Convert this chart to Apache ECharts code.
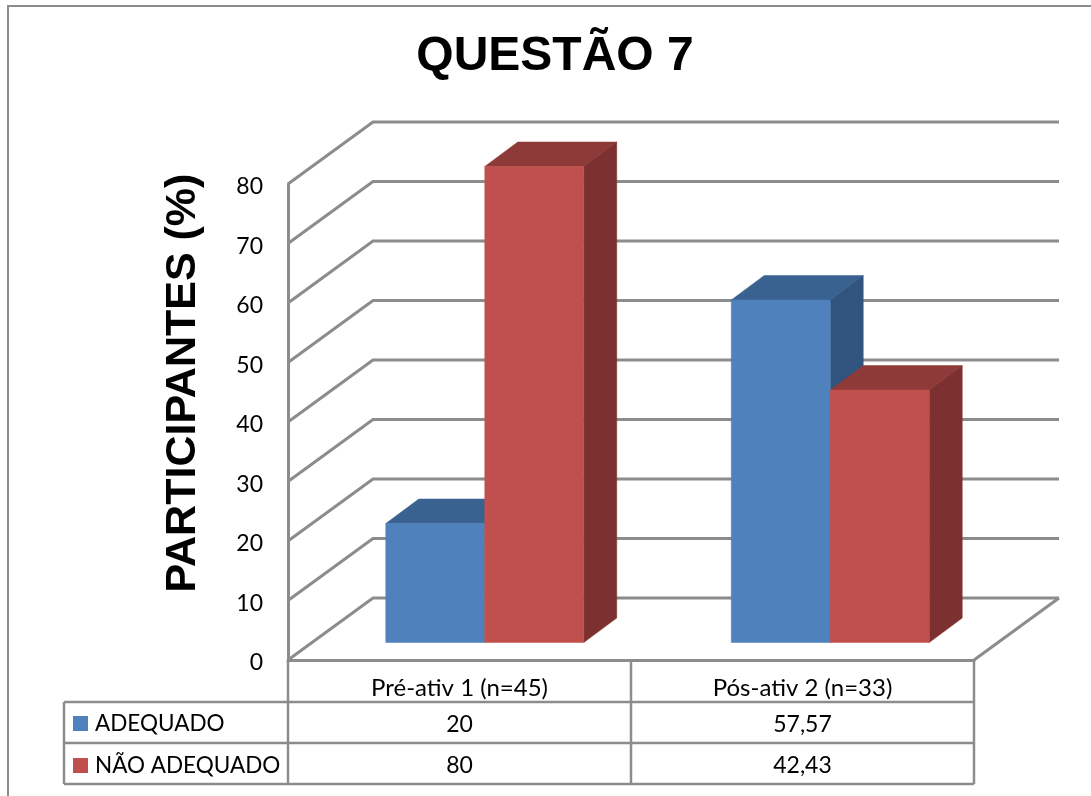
<!DOCTYPE html>
<html>
<head>
<meta charset="utf-8">
<title>QUESTÃO 7</title>
<script src="https://cdn.jsdelivr.net/npm/echarts@6/dist/echarts.min.js"></script>
<style>
  html, body { margin: 0; padding: 0; background: #fff; }
  #chart { width: 1091px; height: 796px; }
</style>
</head>
<body>
<div id="chart"></div>
<script>
const categories = ['Pré-ativ 1 (n=45)', 'Pós-ativ 2 (n=33)']
const adequado = [20, 57.57]
const naoAdequado = [80, 42.43]
const yTicks = [0, 10, 20, 30, 40, 50, 60, 70, 80]

const lineColor = '#8c8c8c'
const font = 'Lato'
// 3d look: how far the back wall sits from the front plane
const wallDx = 85
const wallDy = -62
// front face of the bars against the front plane, and how deep they are
const barDx = 25
const barDy = -17.5
const depthDx = 33
const depthDy = -24.5
const barShare = 0.2865

const myChart = echarts.init(document.getElementById('chart'))

function poly(points, fill) {
  return { type: 'polygon', shape: { points }, style: { fill, stroke: fill, lineWidth: 0.5 } }
}

function wallItem(params, api) {
  const grid = params.coordSys
  const y = api.coord([0, api.value(1)])[1]
  const left = grid.x
  const right = grid.x + grid.width
  const style = { stroke: lineColor, lineWidth: 3, fill: null }
  const children = [{
    type: 'polyline',
    shape: { points: [[left, y], [left + wallDx, y + wallDy], [right + wallDx, y + wallDy]] },
    style
  }]
  if (api.value(1) === 0) {
    children.push({
      type: 'line',
      shape: { x1: right, y1: y, x2: right + wallDx, y2: y + wallDy },
      style
    })
  }
  return { type: 'group', children }
}

function barRender(index, front, top, side) {
  return function (params, api) {
    const w = api.size([1, 0])[0] * barShare
    const center = api.coord([api.value(0), 0])[0] + barDx
    const x = index === 0 ? center - w : center
    const base = api.coord([api.value(0), 0])[1] + barDy
    const yTop = api.coord([api.value(0), api.value(1)])[1] + barDy
    return {
      type: 'group',
      children: [
        poly([[x, yTop], [x + w, yTop], [x + w + depthDx, yTop + depthDy], [x + depthDx, yTop + depthDy]], top),
        poly([[x + w, yTop], [x + w + depthDx, yTop + depthDy], [x + w + depthDx, base + depthDy], [x + w, base]], side),
        poly([[x, yTop], [x + w, yTop], [x + w, base], [x, base]], front)
      ]
    }
  }
}

function fmt(v) {
  return String(v).replace('.', ',')
}

// data table under the chart
const colX = [288, 631, 974]
const rowY = [702, 743, 784]
const tableLines = []
colX.forEach(x => tableLines.push([x, 660, x, rowY[2]]))
rowY.forEach(y => tableLines.push([64, y, colX[2], y]))
tableLines.push([64, rowY[0], 64, rowY[2]])

const graphics = tableLines.map(l => ({
  type: 'line',
  shape: { x1: l[0], y1: l[1], x2: l[2], y2: l[3] },
  style: { stroke: lineColor, lineWidth: 2.5 }
}))
// outer frame
graphics.push({
  type: 'polyline',
  shape: { points: [[8, 796], [8, 6], [1091, 6]] },
  style: { stroke: lineColor, lineWidth: 2, fill: null }
})
;[adequado, naoAdequado].forEach((row, r) => {
  row.forEach((v, c) => {
    graphics.push({
      type: 'text',
      x: (colX[c] + colX[c + 1]) / 2,
      y: (rowY[r] + rowY[r + 1]) / 2 + 2,
      style: { text: fmt(v), font: '23px ' + font, fill: '#000', align: 'center', verticalAlign: 'middle' }
    })
  })
})
// value axis title, placed by hand because it is not centred on the axis
graphics.push({
  type: 'text',
  x: 183,
  y: 383,
  rotation: Math.PI / 2,
  style: {
    text: 'PARTICIPANTES (%)',
    font: 'bold 43px "Liberation Sans"',
    fill: '#000',
    align: 'center',
    verticalAlign: 'middle'
  }
})

const option = {
  animation: false,
  backgroundColor: '#fff',
  title: {
    text: 'QUESTÃO 7',
    left: 550,
    top: 28,
    textAlign: 'center',
    textStyle: { fontFamily: 'Liberation Sans', fontWeight: 'bold', fontSize: 48, color: '#000' }
  },
  legend: {
    orient: 'vertical',
    left: 73,
    top: 712,
    itemWidth: 15,
    itemHeight: 15,
    itemGap: 19,
    padding: 0,
    selectedMode: false,
    icon: 'rect',
    textStyle: { fontFamily: font, fontSize: 22.5, color: '#000', padding: [0, 0, 0, 2] },
    data: ['ADEQUADO', 'NÃO ADEQUADO']
  },
  grid: [
    { left: 288, top: 184, width: 686, height: 476 },
    { left: 287, top: 184, width: 691, height: 476 }
  ],
  xAxis: [
    {
      type: 'category',
      gridIndex: 0,
      data: categories,
      axisTick: { show: false },
      axisLine: { lineStyle: { color: lineColor, width: 3 } },
      axisLabel: { fontFamily: font, fontSize: 24, color: '#000', margin: 16 }
    },
    { type: 'category', gridIndex: 1, data: categories, show: false }
  ],
  yAxis: [
    {
      type: 'value',
      gridIndex: 0,
      min: 0,
      max: 80,
      interval: 10,
      splitLine: { show: false },
      axisTick: { show: false },
      axisLine: { show: true, lineStyle: { color: lineColor, width: 3 } },
      axisLabel: {
        margin: 25,
        formatter: '{v|{value}}',
        rich: { v: { fontFamily: font, fontSize: 23, color: '#000', padding: [6, 0, 0, 0] } }
      }
    },
    { type: 'value', gridIndex: 1, min: 0, max: 80, show: false }
  ],
  series: [
    {
      type: 'custom',
      name: 'walls',
      xAxisIndex: 0,
      yAxisIndex: 0,
      clip: false,
      silent: true,
      z: 1,
      data: yTicks.map(v => [0, v]),
      renderItem: wallItem
    },
    {
      type: 'custom',
      name: 'ADEQUADO',
      xAxisIndex: 1,
      yAxisIndex: 1,
      clip: false,
      z: 2,
      itemStyle: { color: '#4F81BD' },
      data: adequado.map((v, i) => [i, v]),
      renderItem: barRender(0, '#4F81BD', '#3A6291', '#31547E')
    },
    {
      type: 'custom',
      name: 'NÃO ADEQUADO',
      xAxisIndex: 1,
      yAxisIndex: 1,
      clip: false,
      z: 3,
      itemStyle: { color: '#C0504D' },
      data: naoAdequado.map((v, i) => [i, v]),
      renderItem: barRender(1, '#C0504D', '#8E3A38', '#7C3130')
    }
  ],
  graphic: graphics
}

myChart.setOption(option)
</script>
</body>
</html>
